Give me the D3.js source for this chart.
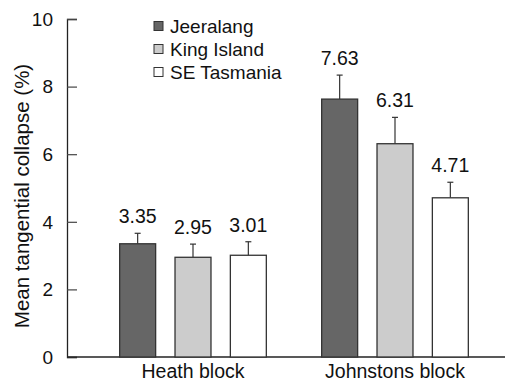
<!DOCTYPE html>
<html>
<head>
<meta charset="utf-8">
<script src="https://cdn.jsdelivr.net/npm/d3@7"></script>
<style>
  body { margin: 0; background: #fff; }
  text { font-family: "Liberation Sans", Arial, sans-serif; fill: #111; }
</style>
</head>
<body>
<div id="vis"></div>
<script>
// data
const blocks = ["Heath block", "Johnstons block"];
const sources = ["Jeeralang", "King Island", "SE Tasmania"];
const meanHeath = [3.35, 2.95, 3.01];
const meanJohnstons = [7.63, 6.31, 4.71];
const seHeath = [0.31, 0.39, 0.40];
const seJohnstons = [0.71, 0.78, 0.46];
const yTicks = [0, 2, 4, 6, 8, 10];
const colores = ["#666666", "#cccccc", "#ffffff"];

const WIDTH = 505;
const HEIGHT = 386;
const margin = { top: 19, right: 0, bottom: 29, left: 67 };

const svg = d3.select("#vis")
  .append("svg")
  .attr("width", WIDTH)
  .attr("height", HEIGHT);

const datos = [];
blocks.forEach((b, i) => {
  const m = i === 0 ? meanHeath : meanJohnstons;
  const s = i === 0 ? seHeath : seJohnstons;
  sources.forEach((src, j) => {
    datos.push({ block: b, source: src, mean: m[j], se: s[j], idx: j });
  });
});

const y = d3.scaleLinear()
  .domain([0, 10])
  .range([HEIGHT - margin.bottom, margin.top]);

const x0 = d3.scaleBand()
  .domain(blocks)
  .range([92, 496])
  .paddingInner(0.0);

const x1 = d3.scaleBand()
  .domain(sources)
  .range([0, x0.bandwidth()])
  .paddingInner(0.35)
  .paddingOuter(0.5);

// axis y
const yAxis = svg.append("g")
  .attr("transform", `translate(${margin.left},0)`)
  .call(d3.axisRight(y).tickValues(yTicks).tickSize(10).tickFormat(""));
yAxis.select(".domain").attr("stroke", "#222").attr("stroke-width", 1.3);
yAxis.selectAll(".tick line").attr("stroke", "#444").attr("stroke-width", 1.2);

svg.append("g")
  .selectAll("text")
  .data(yTicks)
  .join("text")
  .attr("x", 53)
  .attr("y", d => y(d))
  .attr("dy", "0.36em")
  .attr("text-anchor", "end")
  .style("font-size", "19px")
  .text(d => d);

// axis x
svg.append("line")
  .attr("x1", margin.left)
  .attr("x2", WIDTH)
  .attr("y1", y(0))
  .attr("y2", y(0))
  .attr("stroke", "#222")
  .attr("stroke-width", 1.3);

svg.append("g")
  .selectAll("text")
  .data(blocks)
  .join("text")
  .attr("x", d => x0(d) + x0.bandwidth() / 2)
  .attr("y", 378)
  .attr("text-anchor", "middle")
  .style("font-size", "19.5px")
  .text(d => d);

// y title
svg.append("text")
  .attr("transform", "translate(29,196) rotate(-90)")
  .attr("text-anchor", "middle")
  .style("font-size", "20.5px")
  .text("Mean tangential collapse (%)");

// bars
const barras = svg.append("g");

barras.selectAll("line.err")
  .data(datos)
  .join("line")
  .attr("class", "err")
  .attr("x1", d => x0(d.block) + x1(d.source) + x1.bandwidth() / 2)
  .attr("x2", d => x0(d.block) + x1(d.source) + x1.bandwidth() / 2)
  .attr("y1", d => y(d.mean))
  .attr("y2", d => y(d.mean + d.se))
  .attr("stroke", "#333")
  .attr("stroke-width", 1.2);

barras.selectAll("line.cap")
  .data(datos)
  .join("line")
  .attr("class", "cap")
  .attr("x1", d => x0(d.block) + x1(d.source) + x1.bandwidth() / 2 - 3)
  .attr("x2", d => x0(d.block) + x1(d.source) + x1.bandwidth() / 2 + 3)
  .attr("y1", d => y(d.mean + d.se))
  .attr("y2", d => y(d.mean + d.se))
  .attr("stroke", "#333")
  .attr("stroke-width", 1.2);

barras.selectAll("rect")
  .data(datos)
  .join("rect")
  .attr("x", d => x0(d.block) + x1(d.source))
  .attr("y", d => y(d.mean))
  .attr("width", x1.bandwidth())
  .attr("height", d => y(0) - y(d.mean))
  .attr("fill", d => colores[d.idx])
  .attr("stroke", "#333")
  .attr("stroke-width", 1.3);

barras.selectAll("text")
  .data(datos)
  .join("text")
  .attr("x", d => x0(d.block) + x1(d.source) + x1.bandwidth() / 2)
  .attr("y", d => y(d.mean + d.se) - 10)
  .attr("text-anchor", "middle")
  .style("font-size", "19.5px")
  .text(d => d.mean.toFixed(2));

// legend
const leyenda = svg.append("g")
  .attr("transform", "translate(154,0)");

const filas = leyenda.selectAll("g")
  .data(sources)
  .join("g")
  .attr("transform", (d, i) => `translate(0,${26 + i * 23})`);

filas.append("rect")
  .attr("x", 0)
  .attr("y", -4.5)
  .attr("width", 9)
  .attr("height", 9)
  .attr("fill", (d, i) => colores[i])
  .attr("stroke", "#333")
  .attr("stroke-width", 1);

filas.append("text")
  .attr("x", 16)
  .attr("y", 0)
  .attr("dy", "0.36em")
  .style("font-size", "19px")
  .text(d => d);
</script>
</body>
</html>
